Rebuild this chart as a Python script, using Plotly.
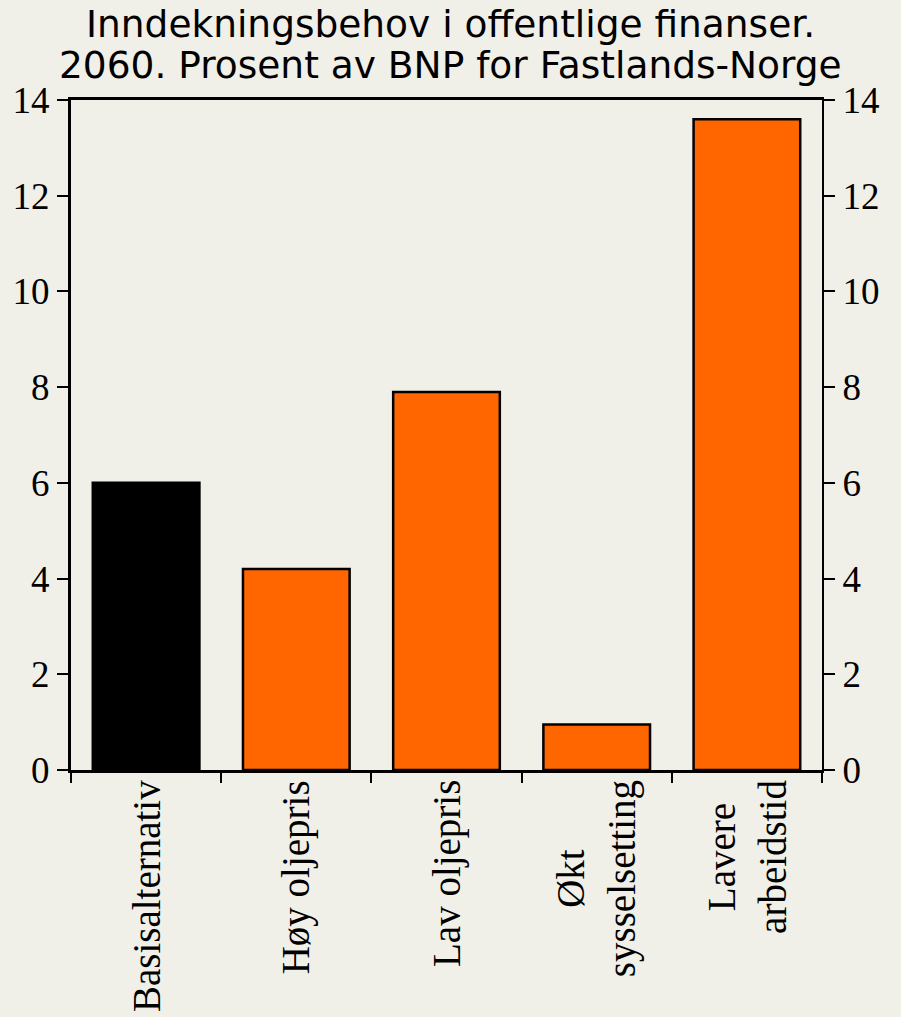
import plotly.graph_objects as go

categories = ["Basisalternativ", "Høy oljepris", "Lav oljepris", "Økt sysselsetting", "Lavere arbeidstid"]
category_labels = ["Basisalternativ", "Høy oljepris", "Lav oljepris", "Økt<br>sysselsetting", "Lavere<br>arbeidstid"]
values = [6.0, 4.2, 7.9, 0.95, 13.6]
colors = ["#000000", "#FF6600", "#FF6600", "#FF6600", "#FF6600"]
y_ticks = [0, 2, 4, 6, 8, 10, 12, 14]
title_lines = ["Inndekningsbehov i offentlige finanser.", "2060. Prosent av BNP for Fastlands-Norge"]

bg = "#F0EFE8"
serif = "Liberation Serif, Times New Roman, serif"

fig = go.Figure()
fig.add_trace(go.Bar(
    x=categories, y=values,
    marker=dict(color=colors, line=dict(color="#000000", width=2.5)),
    showlegend=False, hoverinfo="skip",
))
fig.add_trace(go.Scatter(
    x=categories, y=values, yaxis="y2", mode="markers",
    marker=dict(opacity=0), showlegend=False, hoverinfo="skip",
))

annotations = []
for cat, lab in zip(categories, category_labels):
    annotations.append(dict(
        x=cat, xref="x", y=0, yref="y", yanchor="top", xanchor="center",
        yshift=-8, text=lab, textangle=-90, align="center", showarrow=False,
        font=dict(family=serif, size=39, color="#000000"),
    ))
for line, ypos in zip(title_lines, [1.1134, 1.0522]):
    annotations.append(dict(
        x=0.5047, xref="paper", y=ypos, yref="paper", xanchor="center", yanchor="middle",
        text=line, showarrow=False,
        font=dict(family="DejaVu Sans", size=37.5, color="#000000"),
    ))

fig.update_layout(
    width=901, height=1017,
    paper_bgcolor=bg, plot_bgcolor=bg,
    margin=dict(l=71, r=79, t=100, b=247),
    bargap=0.29,
    annotations=annotations,
    xaxis=dict(
        type="category", tickson="boundaries", ticks="outside", ticklen=10,
        tickwidth=2, tickcolor="#000000", showticklabels=False,
        showline=True, linecolor="#000000", linewidth=3, mirror=True,
        showgrid=False, zeroline=False,
    ),
    yaxis=dict(
        range=[0, 14], tickvals=y_ticks, ticks="outside", ticklen=11,
        tickwidth=2, tickcolor="#000000",
        showline=True, linecolor="#000000", linewidth=3,
        tickfont=dict(family=serif, size=37, color="#000000"),
        showgrid=False, zeroline=False,
    ),
    yaxis2=dict(
        range=[0, 14], tickvals=y_ticks, ticks="outside", ticklen=11,
        tickwidth=2, tickcolor="#000000", overlaying="y", side="right",
        showline=True, linecolor="#000000", linewidth=2,
        tickfont=dict(family=serif, size=37, color="#000000"),
        showgrid=False, zeroline=False,
    ),
)

fig.write_html("out.html", config={"displayModeBar": False},
               post_script="document.body.style.margin='0';")
